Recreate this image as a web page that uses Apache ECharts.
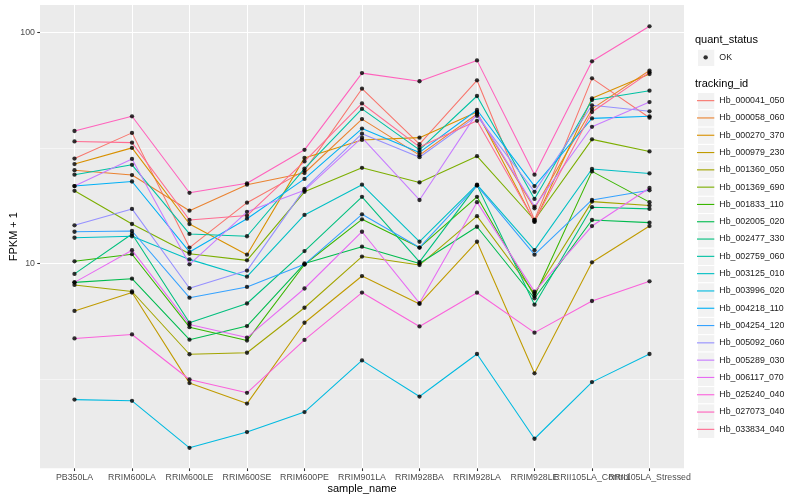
<!DOCTYPE html>
<html><head><meta charset="utf-8">
<script src="https://cdn.jsdelivr.net/npm/echarts@6/dist/echarts.min.js"></script>
<style>html,body{margin:0;padding:0;background:#fff}#c{width:800px;height:500px}</style>
</head><body><div id="c"></div>
<script>
const categories = ['PB350LA','RRIM600LA','RRIM600LE','RRIM600SE','RRIM600PE','RRIM901LA','RRIM928BA','RRIM928LA','RRIM928LE','RRII105LA_Control','RRII105LA_Stressed'];
const trackingIds = ['Hb_000041_050','Hb_000058_060','Hb_000270_370','Hb_000979_230','Hb_001360_050','Hb_001369_690','Hb_001833_110','Hb_002005_020','Hb_002477_330','Hb_002759_060','Hb_003125_010','Hb_003996_020','Hb_004218_110','Hb_004254_120','Hb_005092_060','Hb_005289_030','Hb_006117_070','Hb_025240_040','Hb_027073_040','Hb_033834_040'];
const colors = ['#F8766D','#EA8331','#D89000','#C09B00','#A3A500','#7CAE00','#39B600','#00BB4E','#00BF7D','#00C1A3','#00BFC4','#00BAE0','#00B0F6','#35A2FF','#9590FF','#C77CFF','#E76BF3','#FA62DB','#FF62BC','#FF6C91'];

// FPKM + 1 per sample, in category order
const Hb_000041_050 = [28.4, 36.7, 11.7, 18.3, 25.2, 57.0, 32.8, 62.0, 15.4, 63.2, 42.7];
const Hb_000058_060 = [25.3, 24.1, 16.9, 21.9, 24.6, 42.1, 29.4, 44.3, 17.3, 46.6, 68.3];
const Hb_000270_370 = [26.9, 31.6, 14.8, 10.9, 28.6, 34.2, 35.0, 45.2, 15.1, 51.8, 66.0];
const Hb_000979_230 = [6.22, 7.47, 3.03, 2.47, 5.53, 8.81, 6.67, 12.4, 3.34, 10.1, 14.5];
const Hb_001360_050 = [8.06, 7.55, 4.04, 4.10, 6.42, 10.7, 9.83, 16.0, 7.40, 18.5, 17.8];
const Hb_001369_690 = [20.6, 14.8, 11.0, 10.3, 20.4, 25.9, 22.4, 29.1, 15.4, 34.4, 30.5];
const Hb_001833_110 = [10.2, 10.95, 5.29, 4.63, 9.88, 15.5, 11.7, 19.4, 7.22, 25.0, 18.4];
const Hb_002005_020 = [8.27, 8.58, 4.67, 5.35, 9.98, 11.8, 9.98, 14.4, 7.06, 15.4, 15.0];
const Hb_002477_330 = [9.0, 13.4, 5.53, 6.7, 11.3, 19.4, 10.15, 21.8, 6.62, 17.5, 17.2];
const Hb_002759_060 = [24.2, 26.7, 13.4, 13.1, 25.7, 46.6, 31.0, 53.0, 19.0, 50.9, 55.9];
const Hb_003125_010 = [12.9, 13.1, 10.4, 8.75, 16.2, 21.9, 12.4, 21.9, 11.4, 25.6, 24.5];
const Hb_003996_020 = [2.57, 2.54, 1.59, 1.86, 2.27, 3.80, 2.65, 4.05, 1.74, 3.06, 4.05];
const Hb_004218_110 = [21.6, 22.6, 11.2, 15.6, 23.2, 38.3, 30.2, 46.1, 21.6, 42.4, 43.3];
const Hb_004254_120 = [13.7, 13.8, 7.1, 7.9, 9.9, 16.3, 11.7, 21.7, 10.9, 18.8, 20.7];
const Hb_005092_060 = [14.6, 17.2, 7.8, 9.3, 21.0, 36.4, 28.8, 43.5, 20.4, 48.3, 45.5];
const Hb_005289_030 = [21.6, 28.3, 9.9, 16.7, 20.7, 35.0, 18.8, 44.7, 17.6, 39.0, 49.9];
const Hb_006117_070 = [8.27, 11.4, 5.43, 4.77, 7.78, 13.7, 6.73, 18.4, 7.54, 14.5, 21.2];
const Hb_025240_040 = [4.73, 4.92, 3.14, 2.75, 4.66, 7.47, 5.33, 7.46, 5.01, 6.87, 8.36];
const Hb_027073_040 = [37.4, 43.3, 20.2, 22.2, 31.0, 66.6, 61.4, 75.6, 24.2, 74.9, 106.2];
const Hb_033834_040 = [33.7, 33.3, 15.4, 16.1, 27.6, 49.2, 31.9, 41.4, 15.2, 45.2, 67.1];

const seriesValues = [Hb_000041_050, Hb_000058_060, Hb_000270_370, Hb_000979_230, Hb_001360_050, Hb_001369_690, Hb_001833_110, Hb_002005_020, Hb_002477_330, Hb_002759_060, Hb_003125_010, Hb_003996_020, Hb_004218_110, Hb_004254_120, Hb_005092_060, Hb_005289_030, Hb_006117_070, Hb_025240_040, Hb_027073_040, Hb_033834_040];
const yMajorTicks = [10, 100];
const yMinorTicks = [Math.sqrt(10), Math.sqrt(1000)];
const yRange = [1.296, 131.3];
const quantStatus = ['OK'];

const FONT = 'Liberation Sans';
const lg = Math.log10;
const chart = echarts.init(document.getElementById('c'), null, {renderer: 'canvas'});

const lineIcon = 'path://M0,0 M17,17 M0,7.95 L17,7.95 L17,9.05 L0,9.05 Z';
const dotIcon = 'path://M0,0 M17,17 M6.35,8.5 A2.15,2.15 0 1 1 10.65,8.5 A2.15,2.15 0 1 1 6.35,8.5 Z';

const lineSeries = seriesValues.map((vals, k) => ({
  type: 'line', name: trackingIds[k], xAxisIndex: 0, yAxisIndex: 0,
  data: vals.map((v, i) => [i, lg(v)]),
  showSymbol: false, symbol: 'none', silent: true, animation: false,
  color: colors[k],
  lineStyle: {color: colors[k], width: 1.07}, z: 2
}));
const pointData = [];
seriesValues.forEach(vals => vals.forEach((v, i) => pointData.push([i, lg(v)])));
const pointSeries = {
  type: 'scatter', name: quantStatus[0], xAxisIndex: 0, yAxisIndex: 0,
  data: pointData, symbol: 'circle', symbolSize: 4.3, silent: true, animation: false,
  itemStyle: {color: '#000'}, z: 5
};

const keyBoxes = [];
keyBoxes.push({type: 'rect', left: 697, top: 48.7, shape: {width: 17.3, height: 17.3}, style: {fill: '#F2F2F2', stroke: '#fff', lineWidth: 1}, z: -1});
trackingIds.forEach((id, i) => keyBoxes.push({type: 'rect', left: 697, top: 92 + i * 17.3, shape: {width: 17.3, height: 17.3}, style: {fill: '#F2F2F2', stroke: '#fff', lineWidth: 1}, z: -1}));

const axisLabelStyle = {color: '#4D4D4D', fontSize: 8.8, fontFamily: FONT};
const catIdx = categories.map((c, i) => i);
const evenIdx = catIdx.filter(i => i % 2 === 0);
const oddIdx = catIdx.filter(i => i % 2 === 1);
const catFmt = v => categories[Math.round(v)] || '';

chart.setOption({
  animation: false,
  backgroundColor: '#fff',
  textStyle: {fontFamily: FONT},
  grid: {left: 40, right: 116, top: 5, bottom: 31.7, show: true, backgroundColor: '#EBEBEB', borderWidth: 0, containLabel: false, outerBoundsMode: 'none'},
  title: [
    {text: 'quant_status', left: 695, top: 34, textStyle: {fontSize: 11, fontWeight: 'normal', color: '#000', fontFamily: FONT}, padding: 0},
    {text: 'tracking_id', left: 695, top: 78, textStyle: {fontSize: 11, fontWeight: 'normal', color: '#000', fontFamily: FONT}, padding: 0}
  ],
  legend: [
    {data: [{name: quantStatus[0], icon: dotIcon, itemStyle: {color: '#000'}}], left: 697, top: 48.7, padding: 0,
     itemWidth: 17.3, itemHeight: 17.3, selectedMode: false, textStyle: {fontSize: 8.8, color: '#1A1A1A', fontFamily: FONT}},
    {data: trackingIds.map((id, k) => ({name: id, icon: lineIcon, itemStyle: {color: colors[k], borderWidth: 0}})),
     orient: 'vertical', left: 697, top: 92, padding: 0, itemGap: 0, itemWidth: 17.3, itemHeight: 17.3, selectedMode: false,
     textStyle: {fontSize: 8.8, color: '#1A1A1A', fontFamily: FONT}}
  ],
  graphic: keyBoxes,
  xAxis: [{
    type: 'value', min: -0.6, max: 10.6,
    name: 'sample_name', nameLocation: 'middle', nameGap: 15, nameMoveOverlap: false,
    nameTextStyle: {fontSize: 11, color: '#000', fontFamily: FONT, verticalAlign: 'top'},
    axisLine: {show: false, onZero: false},
    axisTick: {show: true, length: 2.75, lineStyle: {color: '#333', width: 1.07}, customValues: catIdx},
    axisLabel: Object.assign({customValues: evenIdx, margin: 4.5, formatter: catFmt, hideOverlap: false, showMinLabel: true, showMaxLabel: true}, axisLabelStyle),
    splitLine: {show: true, lineStyle: {color: '#fff', width: 1.07}}
  }, {
    type: 'value', min: -0.6, max: 10.6, position: 'bottom', offset: 0,
    axisLine: {show: false, onZero: false},
    axisTick: {show: false, customValues: oddIdx},
    axisLabel: Object.assign({customValues: oddIdx, margin: 4.5, formatter: catFmt, hideOverlap: false, showMinLabel: true, showMaxLabel: true}, axisLabelStyle),
    splitLine: {show: false}
  }],
  yAxis: [{
    type: 'value', min: lg(yRange[0]), max: lg(yRange[1]), position: 'left',
    name: 'FPKM + 1', nameLocation: 'middle', nameGap: 21, nameRotate: 90, nameMoveOverlap: false,
    nameTextStyle: {fontSize: 11, color: '#000', fontFamily: FONT},
    axisLine: {show: false, onZero: false},
    axisTick: {show: true, length: 2.75, lineStyle: {color: '#333', width: 1.07}, customValues: yMajorTicks.map(lg)},
    axisLabel: Object.assign({customValues: yMajorTicks.map(lg), margin: 5, formatter: v => String(Math.round(Math.pow(10, v)))}, axisLabelStyle),
    splitLine: {show: true, lineStyle: {color: '#fff', width: 1.07}}
  }, {
    type: 'value', min: lg(yRange[0]), max: lg(yRange[1]), position: 'right',
    axisLine: {show: false, onZero: false},
    axisTick: {show: false, customValues: yMinorTicks.map(lg)},
    axisLabel: {show: false, customValues: yMinorTicks.map(lg)},
    splitLine: {show: true, lineStyle: {color: '#fff', width: 0.53}}
  }],
  series: lineSeries.concat([pointSeries])
});
</script>
</body></html>
